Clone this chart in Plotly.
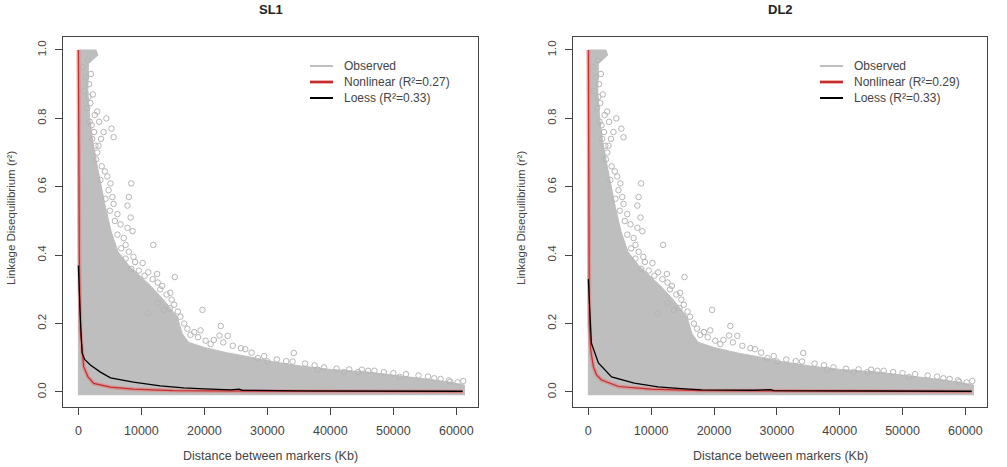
import plotly.graph_objects as go

W, H = 1007, 467

panel_titles = ["SL1", "DL2"]
nonlinear_labels = ["Nonlinear (R²=0.27)", "Nonlinear (R²=0.29)"]
loess_labels = ["Loess (R²=0.33)", "Loess (R²=0.33)"]
x_ticks = [0, 10000, 20000, 30000, 40000, 50000, 60000]
x_tick_labels = ["0", "10000", "20000", "30000", "40000", "50000", "60000"]
y_ticks = [0.0, 0.2, 0.4, 0.6, 0.8, 1.0]
y_tick_labels = ["0.0", "0.2", "0.4", "0.6", "0.8", "1.0"]

# Upper boundary of the dense cloud of observed r² values (Kb, r²)
cloud_x = [0, 0, 2800, 3100, 1600, 1500, 1800, 2300, 2900, 3600, 4300, 5200, 6300, 8000,
           9800, 11500, 13500, 15700, 16500, 17500, 20000, 23500, 27900, 31000,
           35300, 40000, 46000, 50000, 53500, 56500, 59200, 61300, 61300]
cloud_y = [-0.01, 1.0, 1.0, 0.985, 0.96, 0.88, 0.80, 0.73, 0.67, 0.60, 0.54, 0.47, 0.41, 0.37,
           0.34, 0.31, 0.27, 0.22, 0.17, 0.145, 0.13, 0.115, 0.10, 0.088,
           0.076, 0.066, 0.058, 0.05, 0.042, 0.035, 0.028, 0.02, -0.01]

# Scattered observations outside / along the edge of the dense cloud
out_x = [700, 1200, 900, 1400, 1800, 2200, 1600, 3000, 4450, 4000, 5250, 5600, 2700,
         3000, 4600, 5100, 8400, 8000, 7800, 5400, 8300, 7800, 8600, 7500, 8750, 10200,
         11100, 12600, 13000, 11900, 15300, 14600, 19700, 22600, 17800, 19400, 21500,
         23700, 25800, 34200, 34000, 28500, 30000, 44400, 42200, 51000, 61100, 12600,
         13600, 11000, 46000, 38000, 56500, 59000,
         1500, 2000, 1700, 2300, 1900, 2600, 2100, 3300, 2500, 3600, 3200, 2800, 3700,
         4200, 3500, 4800, 4300, 5600, 5000, 6200, 5800, 6700, 6200, 7200, 6800, 8000,
         7500, 9000, 8400, 9600, 10500, 11800, 12500, 13300, 14000, 14800, 15200, 14500,
         15800, 16200, 16800, 17300, 18400, 19000, 20200, 21000, 22400, 23000, 24500,
         26500, 27500, 29500, 31500, 33000, 36000, 37500, 39000, 41000, 43000, 45000,
         47000, 48500, 50000, 52000, 54000, 55500, 57500, 58800, 60200]
out_y = [0.95, 0.92, 0.88, 0.83, 0.79, 0.74, 0.863, 0.82, 0.80, 0.76, 0.77, 0.745, 0.72,
         0.70, 0.63, 0.61, 0.61, 0.57, 0.545, 0.57, 0.51, 0.48, 0.47, 0.43, 0.395, 0.377,
         0.35, 0.32, 0.30, 0.43, 0.336, 0.29, 0.24, 0.193, 0.167, 0.18, 0.152,
         0.164, 0.128, 0.114, 0.089, 0.099, 0.089, 0.058, 0.058, 0.044, 0.032, 0.26,
         0.24, 0.23, 0.062, 0.065, 0.04, 0.03,
         0.97, 0.93, 0.90, 0.87, 0.845, 0.81, 0.78, 0.79, 0.76, 0.74, 0.72, 0.68, 0.66,
         0.645, 0.62, 0.59, 0.565, 0.55, 0.53, 0.52, 0.50, 0.49, 0.46, 0.45, 0.42, 0.41,
         0.39, 0.38, 0.36, 0.355, 0.34, 0.33, 0.345, 0.31, 0.285, 0.27, 0.255, 0.245,
         0.235, 0.22, 0.20, 0.185, 0.175, 0.16, 0.15, 0.14, 0.165, 0.145, 0.135,
         0.125, 0.115, 0.105, 0.095, 0.09, 0.083, 0.078, 0.072, 0.068, 0.066, 0.065,
         0.062, 0.058, 0.055, 0.052, 0.048, 0.045, 0.038, 0.034, 0.028]

# Nonlinear fit
nl_x = [[0, 60, 150, 320, 590, 850, 1500, 2440, 5100, 8750, 15000, 30000, 61000],
        [0, 60, 160, 400, 800, 1300, 2100, 4800, 10000, 18000, 35000, 61000]]
nl_y = [[1.0, 0.6, 0.4, 0.176, 0.11, 0.074, 0.045, 0.025, 0.014, 0.008, 0.004, 0.002, 0.001],
        [1.0, 0.6, 0.196, 0.12, 0.074, 0.05, 0.035, 0.016, 0.008, 0.004, 0.002, 0.001]]

# Loess fit
lo_x = [[0, 150, 250, 590, 1000, 1900, 3500, 5100, 8750, 13000, 16700, 20000, 24200,
         25500, 26000, 35300, 61000],
        [0, 160, 480, 1600, 3700, 7300, 11100, 15300, 18000, 26500, 29000, 29500, 43000,
         61000]]
lo_y = [[0.37, 0.27, 0.24, 0.114, 0.095, 0.079, 0.058, 0.041, 0.029, 0.018, 0.012, 0.009,
         0.006, 0.008, 0.005, 0.003, 0.002],
        [0.33, 0.27, 0.143, 0.085, 0.044, 0.026, 0.015, 0.009, 0.006, 0.005, 0.007, 0.004,
         0.003, 0.002]]

GRAY = "#BEBEBE"
RED = "rgb(200,45,45)"
FONT = "Liberation Sans, Arial, sans-serif"
TXT = "#444444"

# pixel geometry of the two plot boxes
boxes = [(63, 478), (573, 987)]
top_px, bot_px = 37, 407

fig = go.Figure()
shapes = []
annotations = []

for i in range(2):
    xa = "x" if i == 0 else "x2"
    ya = "y" if i == 0 else "y2"
    fig.add_trace(go.Scatter(x=cloud_x, y=cloud_y, mode="lines", fill="toself",
                             fillcolor=GRAY, line=dict(color=GRAY, width=1),
                             xaxis=xa, yaxis=ya, showlegend=False, hoverinfo="skip"))
    fig.add_trace(go.Scatter(x=out_x, y=out_y, mode="markers",
                             marker=dict(symbol="circle-open", size=5.5, color="#B5B5B5",
                                         line=dict(width=1, color="#B5B5B5")),
                             xaxis=xa, yaxis=ya, showlegend=False))
    fig.add_trace(go.Scatter(x=nl_x[i], y=nl_y[i], mode="lines",
                             line=dict(color="rgba(225,120,120,0.55)", width=4),
                             xaxis=xa, yaxis=ya, showlegend=False, hoverinfo="skip"))
    fig.add_trace(go.Scatter(x=nl_x[i], y=nl_y[i], mode="lines",
                             line=dict(color=RED, width=1.2),
                             xaxis=xa, yaxis=ya, showlegend=False))
    fig.add_trace(go.Scatter(x=lo_x[i], y=lo_y[i], mode="lines",
                             line=dict(color="black", width=1.3),
                             xaxis=xa, yaxis=ya, showlegend=False))

    l, r = boxes[i]
    cx = (l + r) / 2
    annotations.append(dict(text="<b>%s</b>" % panel_titles[i], x=cx / W, y=1 - 9 / H,
                            xref="paper", yref="paper", showarrow=False,
                            font=dict(family=FONT, size=13, color="#222"),
                            xanchor="center", yanchor="middle"))
    annotations.append(dict(text="Distance between markers (Kb)", x=cx / W, y=1 - 456 / H,
                            xref="paper", yref="paper", showarrow=False,
                            font=dict(family=FONT, size=12.5, color=TXT),
                            xanchor="center", yanchor="middle"))
    annotations.append(dict(text="Linkage Disequilibrium (r²)", x=(l - 52) / W,
                            y=1 - 218 / H, xref="paper", yref="paper", showarrow=False,
                            textangle=-90, font=dict(family=FONT, size=11.5, color=TXT),
                            xanchor="center", yanchor="middle"))
    leg_items = [("Observed", GRAY), (nonlinear_labels[i], RED), (loess_labels[i], "black")]
    lx0 = l + 247
    for k, (lab, col) in enumerate(leg_items):
        py = 66 + 16 * k
        if k == 1:
            shapes.append(dict(type="line", xref="paper", yref="paper",
                               x0=lx0 / W, x1=(lx0 + 23) / W, y0=1 - py / H, y1=1 - py / H,
                               line=dict(color="rgba(225,120,120,0.6)", width=4)))
        shapes.append(dict(type="line", xref="paper", yref="paper",
                           x0=lx0 / W, x1=(lx0 + 23) / W, y0=1 - py / H, y1=1 - py / H,
                           line=dict(color=col, width=2)))
        annotations.append(dict(text=lab, x=(lx0 + 32) / W, y=1 - py / H,
                                xref="paper", yref="paper", showarrow=False,
                                font=dict(family=FONT, size=12, color=TXT),
                                xanchor="left", yanchor="middle"))

axis_common = dict(showgrid=False, zeroline=False, showline=True, mirror=True,
                   linecolor="#444", linewidth=1, ticks="outside", ticklen=7,
                   tickcolor="#444", tickwidth=1)

xr = [-2440, 63440]
yr = [-0.044, 1.038]
ydom = [1 - bot_px / H, 1 - top_px / H]
xfont = dict(family=FONT, size=12.5, color=TXT)
yfont = dict(family=FONT, size=11.5, color=TXT)

fig.update_layout(
    width=W, height=H, margin=dict(l=0, r=0, t=0, b=0),
    paper_bgcolor="white", plot_bgcolor="white", showlegend=False,
    xaxis=dict(domain=[boxes[0][0] / W, boxes[0][1] / W], range=xr, anchor="y",
               tickvals=x_ticks, ticktext=x_tick_labels, ticklabelstandoff=5,
               tickfont=xfont, **axis_common),
    yaxis=dict(domain=ydom, range=yr, anchor="x", tickvals=y_ticks, ticktext=y_tick_labels,
               tickangle=-90, ticklabelstandoff=4, tickfont=yfont, **axis_common),
    xaxis2=dict(domain=[boxes[1][0] / W, boxes[1][1] / W], range=xr, anchor="y2",
                tickvals=x_ticks, ticktext=x_tick_labels, ticklabelstandoff=5,
                tickfont=xfont, **axis_common),
    yaxis2=dict(domain=ydom, range=yr, anchor="x2", tickvals=y_ticks, ticktext=y_tick_labels,
                tickangle=-90, ticklabelstandoff=4, tickfont=yfont, **axis_common),
    shapes=shapes, annotations=annotations,
)

fig.write_html("out.html")
